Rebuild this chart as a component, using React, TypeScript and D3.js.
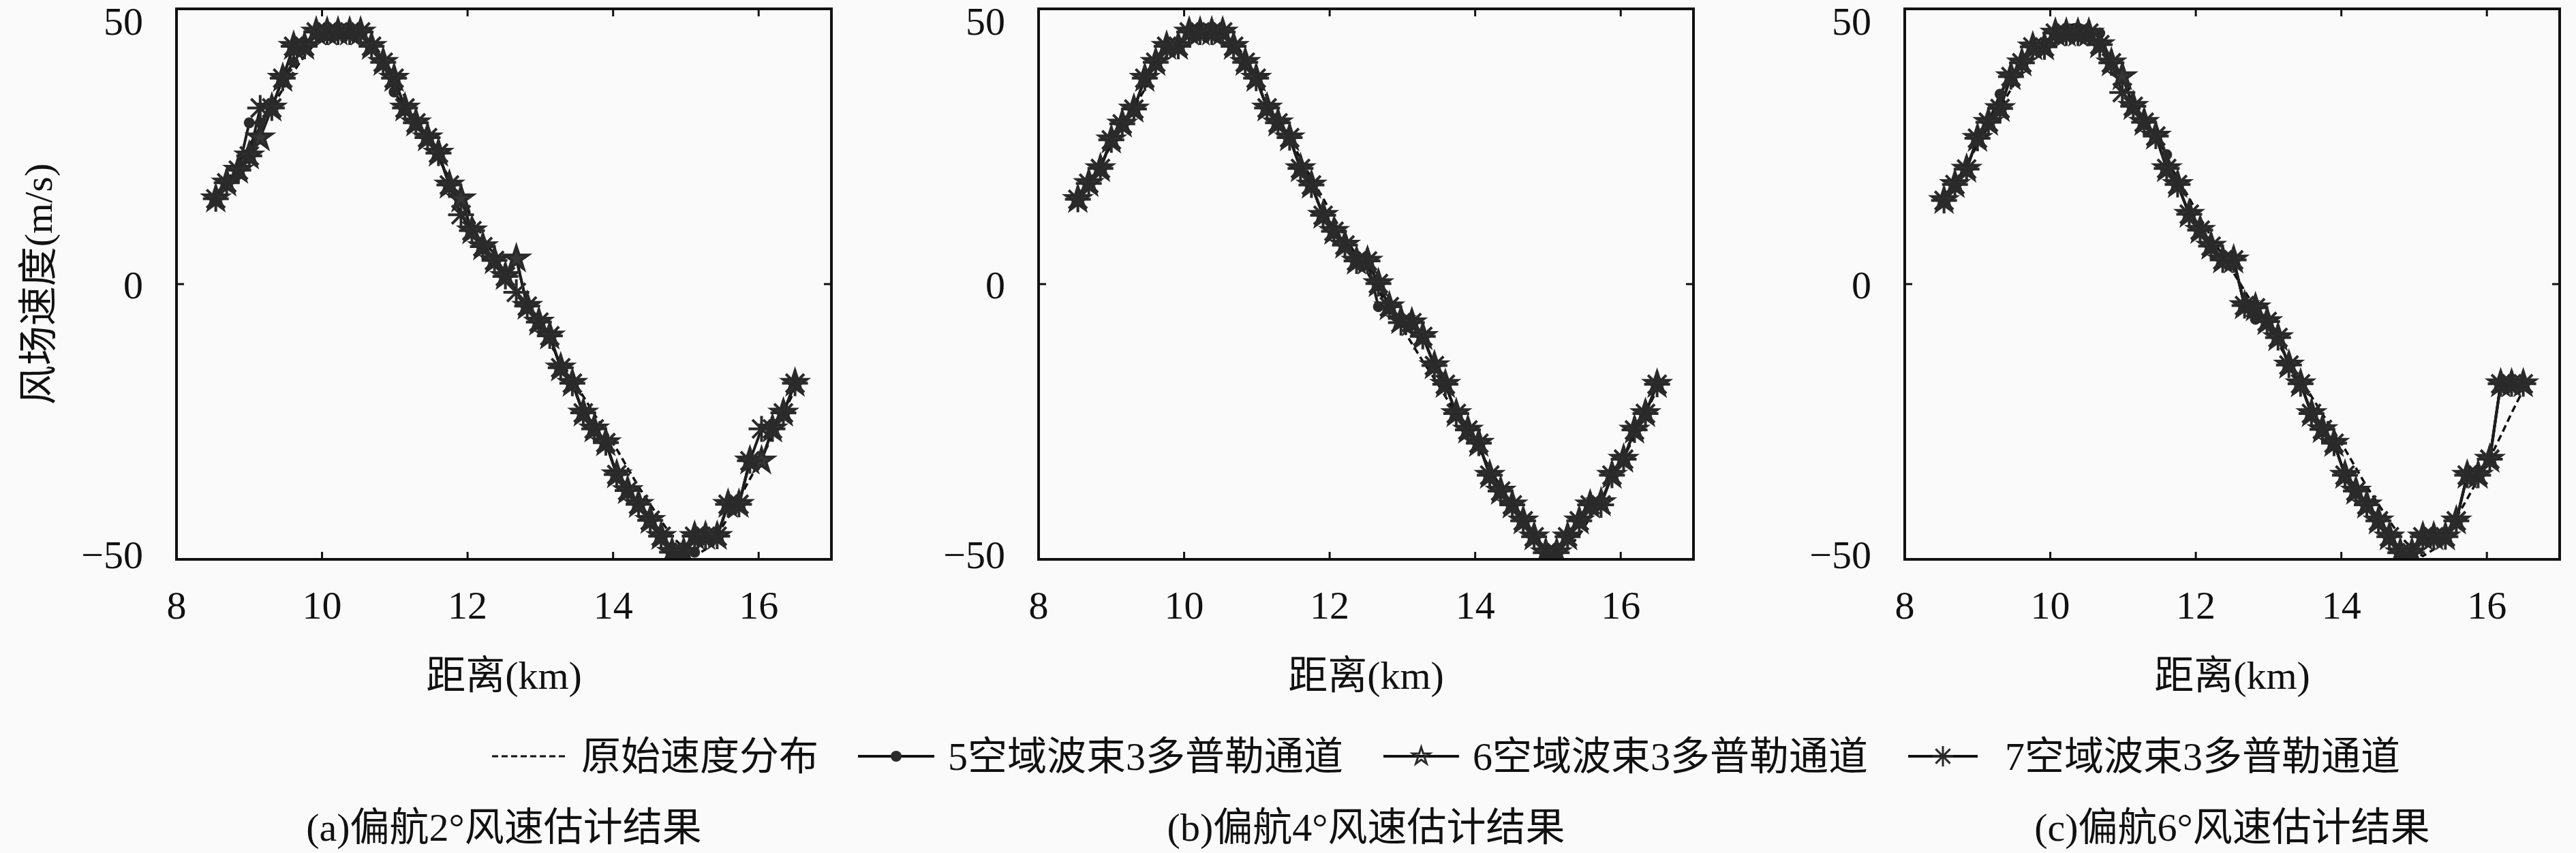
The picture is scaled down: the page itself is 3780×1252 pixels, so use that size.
import React from 'react'
import * as d3 from 'd3'

// range gates (km)
const distanceKm = [
  8.54, 8.69, 8.85, 9.0, 9.15, 9.31, 9.46, 9.61, 9.76, 9.92, 10.07, 10.22, 10.38, 10.53, 10.68, 10.84,
  10.99, 11.14, 11.29, 11.45, 11.6, 11.75, 11.91, 12.06, 12.21, 12.37, 12.52, 12.67, 12.82, 12.98,
  13.13, 13.28, 13.44, 13.59, 13.74, 13.9, 14.05, 14.2, 14.35, 14.51, 14.66, 14.81, 14.97, 15.12,
  15.27, 15.43, 15.58, 15.73, 15.88, 16.04, 16.19, 16.34, 16.5,
]

// 原始速度分布 (same in the three panels)
const originalSpeed = [
  15.5, 18.6, 21.8, 25.2, 28.6, 32.0, 35.4, 38.6, 41.5, 43.9, 45.7, 46.9, 47.3, 46.6, 44.3, 41.0,
  37.6, 34.0, 30.3, 26.6, 22.8, 19.2, 15.6, 12.0, 8.6, 5.2, 2.0, -1.2, -4.4, -7.6, -10.8, -14.0,
  -17.2, -20.4, -23.6, -26.8, -30.0, -33.4, -36.8, -40.0, -43.0, -45.8, -48.0, -49.4, -48.2, -45.6,
  -42.4, -39.0, -35.4, -31.6, -27.6, -23.4, -19.2,
]

// (a) yaw 2°
const yaw2Ch5 = [
  15.5, 18.4, 20.7, 29.3, 29.3, 32.0, 37.4, 40.3, 43.2, 45.8, 45.8, 45.8, 45.8, 45.8, 43.2, 40.3,
  34.9, 32.0, 29.3, 26.6, 23.8, 18.0, 15.5, 9.7, 6.8, 4.3, 1.4, 4.6, -4.0, -6.9, -9.4, -15.2, -18.0,
  -23.4, -26.3, -28.8, -34.6, -37.5, -40.0, -42.9, -45.8, -48.7, -48.7, -48.7, -45.8, -45.8, -40.0,
  -40.0, -32.1, -32.1, -26.3, -23.4, -18.0,
]
const yaw2Ch6 = [
  15.5, 18.4, 20.7, 23.3, 26.6, 32.0, 37.4, 43.2, 43.2, 45.8, 45.8, 45.8, 45.8, 45.8, 43.2, 40.3,
  37.4, 32.0, 29.3, 26.6, 23.8, 18.0, 15.5, 9.7, 6.8, 4.3, 1.4, 4.6, -4.0, -6.9, -9.4, -15.2, -18.0,
  -23.4, -26.3, -28.8, -34.6, -37.5, -40.0, -42.9, -45.8, -48.7, -48.7, -45.8, -45.8, -45.8, -40.0,
  -40.0, -32.1, -32.1, -26.3, -23.4, -18.0,
]
const yaw2Ch7 = [
  15.5, 18.4, 20.7, 23.3, 32.0, 32.0, 37.4, 43.2, 43.2, 45.8, 45.8, 45.8, 45.8, 45.8, 43.2, 40.3,
  37.4, 32.0, 29.3, 26.6, 23.8, 18.0, 12.6, 9.7, 6.8, 4.3, 1.4, -1.5, -4.0, -6.9, -9.4, -15.2, -18.0,
  -23.4, -26.3, -28.8, -34.6, -37.5, -40.0, -42.9, -45.8, -48.7, -48.7, -45.8, -45.8, -45.8, -40.0,
  -40.0, -32.1, -26.3, -26.3, -23.4, -18.0,
]

// (b) yaw 4°
const yaw4Ch5 = [
  15.4, 18.3, 21.0, 26.2, 29.1, 31.8, 37.4, 40.3, 43.2, 43.2, 45.8, 45.8, 45.8, 45.8, 43.2, 40.3,
  37.4, 32.0, 29.3, 26.6, 21.0, 18.0, 12.5, 9.6, 7.1, 4.2, 4.2, -4.1, -4.1, -6.6, -7.0, -9.5, -14.8,
  -18.2, -23.5, -26.5, -28.9, -34.7, -37.6, -40.1, -43.0, -45.9, -48.8, -48.8, -45.9, -43.0, -40.1,
  -39.7, -34.7, -31.8, -26.5, -23.5, -18.2,
]
const yaw4Ch6 = [
  15.4, 18.3, 21.0, 26.2, 29.1, 31.8, 37.4, 40.3, 43.2, 43.2, 45.8, 45.8, 45.8, 45.8, 43.2, 40.3,
  37.4, 32.0, 29.3, 26.6, 21.0, 18.0, 12.5, 9.6, 7.1, 4.2, 4.2, 0.1, -4.1, -6.6, -7.0, -9.5, -14.8,
  -18.2, -23.5, -26.5, -28.9, -34.7, -37.6, -40.1, -43.0, -45.9, -48.8, -48.8, -45.9, -43.0, -40.1,
  -39.7, -34.7, -31.8, -26.5, -23.5, -18.2,
]
const yaw4Ch7 = [
  15.4, 18.3, 21.0, 26.2, 29.1, 31.8, 37.4, 40.3, 43.2, 43.2, 45.8, 45.8, 45.8, 45.8, 43.2, 40.3,
  37.4, 32.0, 29.3, 26.6, 21.0, 18.0, 12.5, 9.6, 7.1, 4.2, 4.2, 0.1, -4.1, -7.0, -7.0, -9.5, -14.8,
  -18.2, -23.5, -26.5, -28.9, -34.7, -37.6, -40.1, -43.0, -45.9, -48.8, -48.8, -45.9, -43.0, -40.1,
  -40.1, -34.7, -31.8, -26.5, -23.5, -18.2,
]

// (c) yaw 6°
const yaw6Ch5 = [
  15.2, 18.1, 20.9, 26.5, 29.4, 34.5, 37.7, 40.2, 43.1, 43.1, 45.6, 45.6, 45.6, 45.6, 45.6, 40.2,
  37.7, 32.3, 29.4, 26.9, 23.5, 18.1, 12.7, 9.8, 6.9, 4.4, 4.4, -3.9, -6.4, -6.8, -9.7, -14.7, -18.1,
  -23.5, -26.4, -28.9, -34.7, -37.6, -40.1, -43.0, -45.9, -48.8, -48.8, -45.9, -45.9, -45.9, -43.0,
  -34.7, -34.7, -31.8, -18.1, -18.1, -18.1,
]
const yaw6Ch6 = [
  15.2, 18.1, 20.9, 26.5, 29.4, 31.9, 37.7, 40.2, 43.1, 43.1, 45.6, 45.6, 45.6, 45.6, 43.5, 40.2,
  37.7, 32.3, 29.4, 26.9, 21.0, 18.1, 12.7, 9.8, 6.9, 4.4, 4.4, -3.9, -4.3, -6.8, -9.7, -14.7, -18.1,
  -23.5, -26.4, -28.9, -34.7, -37.6, -40.1, -43.0, -45.9, -48.8, -48.8, -45.9, -45.9, -45.9, -43.0,
  -34.7, -34.7, -31.8, -18.1, -18.1, -18.1,
]
const yaw6Ch7 = [
  15.2, 18.1, 20.9, 26.5, 29.4, 31.9, 37.7, 40.2, 43.1, 43.1, 45.6, 45.6, 45.6, 45.6, 43.5, 40.2,
  34.8, 32.3, 29.4, 26.9, 21.0, 18.1, 12.7, 9.8, 6.9, 4.4, 4.4, -3.9, -4.3, -6.8, -9.7, -14.7, -18.1,
  -23.5, -26.4, -28.9, -34.7, -37.6, -40.1, -43.0, -45.9, -48.8, -48.8, -45.9, -45.9, -45.9, -43.0,
  -34.7, -34.7, -31.8, -18.1, -18.1, -18.1,
]

const xTicks = [8, 10, 12, 14, 16]
const yTicks = [-50, 0, 50]
const captions = ['(a)偏航2°风速估计结果', '(b)偏航4°风速估计结果', '(c)偏航6°风速估计结果']
const legendLabels = ['原始速度分布', '5空域波束3多普勒通道', '6空域波束3多普勒通道', '7空域波束3多普勒通道']

const panels = [
  { ch5: yaw2Ch5, ch6: yaw2Ch6, ch7: yaw2Ch7 },
  { ch5: yaw4Ch5, ch6: yaw4Ch6, ch7: yaw4Ch7 },
  { ch5: yaw6Ch5, ch6: yaw6Ch6, ch7: yaw6Ch7 },
]

const W = 3780
const H = 1252
const PLOT_W = 961
const PLOT_TOP = 13
const PLOT_BOTTOM = 821
const panelLeft = [259, 1524, 2795]
const FONT = "'Liberation Serif', 'Noto Sans CJK SC', serif"
const FS = 58
const INK = '#111'
const MARK = '#2a2a2a'

const starPath = (size: number) => d3.symbol().type(d3.symbolStar).size(size)() as string
const asteriskPath = (r: number) => {
  const d = r * 0.7071
  return `M0,${-r}V${r}M${-r},0H${r}M${-d},${-d}L${d},${d}M${-d},${d}L${d},${-d}`
}

const DotMark = ({ r }: { r: number }) => <circle r={r} fill={MARK} />
const StarMark = ({ size, filled, sw }: { size: number; filled: boolean; sw: number }) => (
  <path d={starPath(size)} fill={filled ? '#363636' : 'none'} stroke={MARK} strokeWidth={sw} strokeLinejoin="miter" />
)
const AstMark = ({ r, sw }: { r: number; sw: number }) => (
  <path d={asteriskPath(r)} stroke={MARK} strokeWidth={sw} fill="none" />
)

const Panel: React.FC<{ index: number }> = ({ index }) => {
  const left = panelLeft[index]
  const x = d3.scaleLinear().domain([8, 17]).range([left, left + PLOT_W])
  const y = d3.scaleLinear().domain([-50, 50]).range([PLOT_BOTTOM, PLOT_TOP])
  const line = d3
    .line<number>()
    .x((_, i) => x(distanceKm[i]))
    .y((d) => y(d))
  const p = panels[index]
  const clipId = `clip-${index}`
  const tickLen = 11

  return (
    <g>
      <defs>
        <clipPath id={clipId}>
          <rect x={left} y={PLOT_TOP} width={PLOT_W} height={PLOT_BOTTOM - PLOT_TOP} />
        </clipPath>
      </defs>
      <g clipPath={`url(#${clipId})`}>
        <path d={line(originalSpeed) as string} fill="none" stroke={INK} strokeWidth={3.5} strokeDasharray="10 6" />
        <path d={line(p.ch5) as string} fill="none" stroke="#1e1e1e" strokeWidth={4} />
        <path d={line(p.ch6) as string} fill="none" stroke="#1e1e1e" strokeWidth={4} />
        <path d={line(p.ch7) as string} fill="none" stroke="#1e1e1e" strokeWidth={4} />
        {p.ch5.map((v, i) => (
          <g key={`d${i}`} transform={`translate(${x(distanceKm[i])},${y(v)})`}>
            <DotMark r={8} />
          </g>
        ))}
        {p.ch6.map((v, i) => (
          <g key={`s${i}`} transform={`translate(${x(distanceKm[i])},${y(v)})`}>
            <StarMark size={380} filled sw={4} />
          </g>
        ))}
        {p.ch7.map((v, i) => (
          <g key={`a${i}`} transform={`translate(${x(distanceKm[i])},${y(v)})`}>
            <AstMark r={19} sw={4} />
          </g>
        ))}
      </g>

      {/* axes box + inward ticks */}
      <rect x={left} y={PLOT_TOP} width={PLOT_W} height={PLOT_BOTTOM - PLOT_TOP} fill="none" stroke={INK} strokeWidth={4} />
      {xTicks.map((t) => (
        <g key={`xt${t}`}>
          <line x1={x(t)} x2={x(t)} y1={PLOT_BOTTOM} y2={PLOT_BOTTOM - tickLen} stroke={INK} strokeWidth={3} />
          <line x1={x(t)} x2={x(t)} y1={PLOT_TOP} y2={PLOT_TOP + tickLen} stroke={INK} strokeWidth={3} />
          <text x={x(t)} y={908} textAnchor="middle" fontFamily={FONT} fontSize={FS} fill={INK}>
            {t}
          </text>
        </g>
      ))}
      {yTicks.map((t) => (
        <g key={`yt${t}`}>
          <line x1={left} x2={left + tickLen} y1={y(t)} y2={y(t)} stroke={INK} strokeWidth={3} />
          <line x1={left + PLOT_W} x2={left + PLOT_W - tickLen} y1={y(t)} y2={y(t)} stroke={INK} strokeWidth={3} />
          <text
            x={left - 49}
            y={Math.min(Math.max(y(t), PLOT_TOP + 17), PLOT_BOTTOM - 8) + 21}
            textAnchor="end"
            fontFamily={FONT}
            fontSize={FS}
            fill={INK}
          >
            {t < 0 ? `\u2212${Math.abs(t)}` : t}
          </text>
        </g>
      ))}
      <text x={left + PLOT_W / 2} y={1011} textAnchor="middle" fontFamily={FONT} fontSize={FS} fill={INK}>
        距离(km)
      </text>
      <text x={left + PLOT_W / 2} y={1234} textAnchor="middle" fontFamily={FONT} fontSize={FS} fill={INK}>
        {captions[index]}
      </text>
    </g>
  )
}

const legendItems = [
  { x0: 722, x1: 833, tx: 853 },
  { x0: 1259, x1: 1371, tx: 1391 },
  { x0: 2030, x1: 2141, tx: 2161 },
  { x0: 2800, x1: 2902, tx: 2942 },
]

const Legend = () => {
  const ly = 1110
  return (
    <g>
      {legendItems.map((it, i) => (
        <g key={i}>
          <line
            x1={it.x0}
            x2={it.x1}
            y1={ly}
            y2={ly}
            stroke={INK}
            strokeWidth={i === 0 ? 3 : 4}
            strokeDasharray={i === 0 ? '9 5' : undefined}
          />
          <g transform={`translate(${(it.x0 + it.x1) / 2},${ly})`}>
            {i === 1 && <DotMark r={8} />}
            {i === 2 && <StarMark size={200} filled={false} sw={3} />}
            {i === 3 && <AstMark r={15} sw={3} />}
          </g>
          <text x={it.tx} y={ly + 20} fontFamily={FONT} fontSize={FS} fill={INK}>
            {legendLabels[i]}
          </text>
        </g>
      ))}
    </g>
  )
}

export default function App() {
  return (
    <div style={{ position: 'absolute', left: 0, top: 0 }}>
      <svg width={W} height={H} viewBox={`0 0 ${W} ${H}`} style={{ display: 'block' }}>
        <rect width={W} height={H} fill="#fafafa" />
        <text
          transform={`translate(56,417) rotate(-90)`}
          textAnchor="middle"
          dominantBaseline="central"
          fontFamily={FONT}
          fontSize={FS}
          fill={INK}
        >
          风场速度(m/s)
        </text>
        {panels.map((_, i) => (
          <Panel key={i} index={i} />
        ))}
        <Legend />
      </svg>
    </div>
  )
}
